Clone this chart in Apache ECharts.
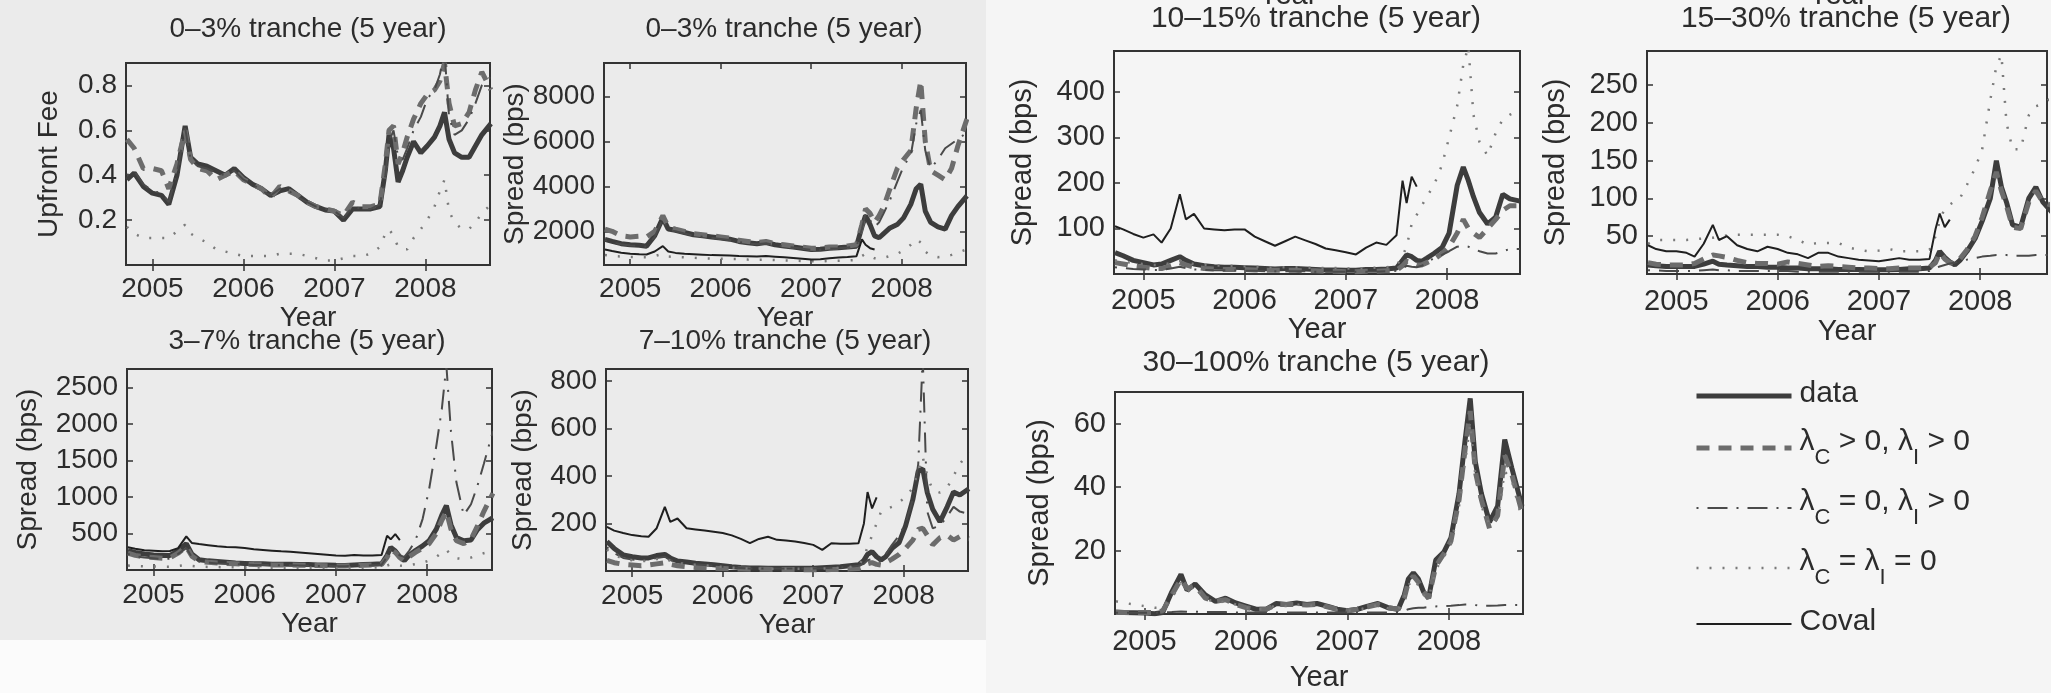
<!DOCTYPE html>
<html>
<head>
<meta charset="utf-8">
<script src="https://cdn.jsdelivr.net/npm/echarts@6/dist/echarts.min.js"></script>
<style>
  html, body { margin: 0; padding: 0; background: #f5f5f5; }
  #chart { width: 2051px; height: 693px; }
</style>
</head>
<body>
<div id="chart"></div>
<script>
// time grid shared by every panel (decimal years)
const dates = [2004.72, 2004.80, 2004.90, 2005.00, 2005.10, 2005.18, 2005.27, 2005.36, 2005.42, 2005.50,
  2005.60, 2005.70, 2005.80, 2005.90, 2006.00, 2006.10, 2006.20, 2006.30, 2006.40, 2006.50,
  2006.60, 2006.70, 2006.80, 2006.90, 2007.00, 2007.10, 2007.20, 2007.30, 2007.40, 2007.50,
  2007.56, 2007.60, 2007.65, 2007.70, 2007.75, 2007.80, 2007.87, 2007.95, 2008.02, 2008.10,
  2008.16, 2008.21, 2008.26, 2008.32, 2008.40, 2008.48, 2008.55, 2008.62, 2008.72]
const yearTicks = [2005, 2006, 2007, 2008]
const seriesNames = ['data', 'λC > 0, λI > 0', 'λC = 0, λI > 0', 'λC = λI = 0', 'Coval']
const covalEnd = new Array(15).fill(null)

// 0-3% tranche, upfront fee
const eqUpfrontData = [0.38, 0.41, 0.35, 0.32, 0.31, 0.27, 0.40, 0.62, 0.48, 0.45, 0.44, 0.42, 0.40, 0.43, 0.39, 0.36, 0.34, 0.31, 0.33, 0.34, 0.31, 0.28, 0.26, 0.245, 0.24, 0.20, 0.25, 0.25, 0.25, 0.26, 0.42, 0.58, 0.52, 0.37, 0.42, 0.48, 0.55, 0.50, 0.53, 0.57, 0.62, 0.68, 0.56, 0.50, 0.48, 0.48, 0.53, 0.58, 0.63]
const eqUpfrontBoth = [0.56, 0.52, 0.43, 0.43, 0.42, 0.34, 0.45, 0.60, 0.47, 0.43, 0.42, 0.38, 0.40, 0.42, 0.38, 0.36, 0.34, 0.30, 0.35, 0.33, 0.31, 0.28, 0.26, 0.25, 0.24, 0.22, 0.28, 0.26, 0.26, 0.27, 0.45, 0.60, 0.62, 0.45, 0.50, 0.57, 0.65, 0.72, 0.76, 0.78, 0.82, 0.90, 0.72, 0.62, 0.63, 0.68, 0.78, 0.86, 0.78]
const eqUpfrontIdio = [0.40, 0.42, 0.36, 0.33, 0.32, 0.28, 0.41, 0.61, 0.47, 0.44, 0.43, 0.41, 0.40, 0.42, 0.38, 0.36, 0.33, 0.31, 0.34, 0.33, 0.30, 0.28, 0.26, 0.25, 0.24, 0.21, 0.26, 0.25, 0.25, 0.27, 0.40, 0.55, 0.60, 0.48, 0.47, 0.52, 0.60, 0.66, 0.74, 0.78, 0.85, 0.95, 0.66, 0.58, 0.60, 0.65, 0.72, 0.80, 0.84]
const eqUpfrontNone = [0.17, 0.14, 0.12, 0.12, 0.12, 0.12, 0.15, 0.18, 0.14, 0.12, 0.10, 0.07, 0.06, 0.05, 0.04, 0.04, 0.04, 0.04, 0.05, 0.05, 0.05, 0.04, 0.03, 0.02, 0.02, 0.03, 0.04, 0.04, 0.05, 0.08, 0.14, 0.16, 0.13, 0.08, 0.07, 0.07, 0.12, 0.16, 0.20, 0.26, 0.33, 0.38, 0.24, 0.19, 0.16, 0.16, 0.19, 0.23, 0.27]

// 0-3% tranche, running spread
const eqSpreadData = [1640, 1550, 1450, 1400, 1380, 1340, 1800, 2600, 2100, 2050, 1950, 1850, 1800, 1750, 1700, 1650, 1550, 1490, 1450, 1500, 1400, 1350, 1300, 1250, 1190, 1200, 1250, 1270, 1300, 1340, 2200, 2700, 2300, 1800, 1715, 1900, 2150, 2300, 2600, 3200, 3900, 4100, 2900, 2400, 2200, 2100, 2700, 3100, 3580]
const eqSpreadBoth = [2100, 2000, 1800, 1750, 1780, 1750, 2000, 2700, 2200, 2100, 2000, 1900, 1850, 1800, 1750, 1700, 1600, 1550, 1500, 1550, 1450, 1400, 1350, 1300, 1250, 1250, 1300, 1300, 1350, 1400, 2300, 3000, 2800, 2400, 2700, 3100, 3900, 4800, 5200, 5600, 7500, 8700, 6000, 4700, 4500, 4300, 4800, 5800, 7000]
const eqSpreadIdio = [1600, 1500, 1420, 1370, 1350, 1320, 1750, 2550, 2050, 2000, 1900, 1800, 1760, 1710, 1660, 1610, 1520, 1460, 1420, 1470, 1380, 1330, 1280, 1230, 1170, 1180, 1230, 1250, 1280, 1320, 2100, 2800, 2500, 2200, 2400, 2800, 3400, 4200, 4900, 5400, 6800, 7400, 5600, 4800, 5200, 5700, 5900, 6100, 6400]
const eqSpreadNone = [950, 900, 880, 860, 850, 850, 900, 1000, 880, 860, 840, 820, 800, 790, 780, 770, 760, 740, 730, 740, 720, 700, 690, 680, 670, 660, 680, 690, 700, 720, 900, 1000, 900, 800, 780, 820, 900, 1000, 1150, 1400, 1650, 1500, 1100, 900, 850, 880, 950, 1050, 1200]
const eqSpreadCoval = [1190, 1120, 1050, 1000, 980, 970, 1100, 1340, 1100, 1040, 1000, 980, 960, 940, 930, 920, 900, 895, 880, 900, 870, 840, 810, 780, 745, 760, 800, 830, 860, 895, 1640, 1400, 1250, 1190].concat(covalEnd)

// 3-7% tranche
const mezzData = [265, 240, 220, 205, 198, 200, 260, 360, 220, 140, 125, 115, 105, 95, 90, 85, 85, 80, 80, 80, 75, 75, 70, 68, 65, 63, 70, 75, 80, 85, 200, 310, 260, 180, 130, 200, 265, 330, 400, 560, 750, 880, 620, 445, 400, 410, 550, 640, 715]
const mezzBoth = [230, 200, 180, 170, 160, 165, 230, 320, 190, 120, 105, 95, 90, 85, 80, 75, 72, 70, 68, 70, 66, 62, 60, 58, 56, 55, 60, 65, 70, 75, 170, 280, 240, 170, 120, 180, 240, 300, 360, 500, 680, 800, 560, 400, 360, 420, 600, 800, 1050]
const mezzIdio = [220, 190, 170, 160, 150, 155, 220, 300, 180, 115, 100, 90, 85, 80, 75, 70, 68, 66, 64, 66, 62, 58, 56, 54, 52, 51, 56, 60, 65, 70, 180, 280, 250, 200, 180, 260, 400, 700, 1100, 1700, 2200, 2800, 1900, 1200, 750, 900, 1150, 1450, 1900]
const mezzNone = [60, 55, 50, 48, 46, 46, 55, 70, 55, 45, 42, 40, 38, 36, 35, 34, 33, 32, 32, 32, 31, 30, 30, 29, 28, 28, 30, 32, 34, 36, 60, 80, 70, 60, 55, 65, 80, 100, 130, 180, 240, 280, 200, 160, 150, 170, 200, 230, 260]
const mezzCoval = [310, 290, 270, 265, 255, 260, 300, 460, 370, 355, 340, 325, 315, 310, 300, 285, 275, 265, 255, 250, 240, 230, 220, 210, 200, 195, 205, 200, 200, 205, 470, 420, 490, 410].concat(covalEnd)

// 7-10% tranche
const t710Data = [124, 95, 68, 60, 55, 55, 65, 70, 55, 42, 38, 33, 30, 26, 22, 18, 15, 13, 13, 12, 12, 12, 12, 12, 12, 14, 16, 18, 22, 26, 45, 70, 82, 60, 47, 60, 95, 120, 190, 300, 420, 430, 330, 260, 207, 270, 332, 320, 346]
const t710Both = [45, 35, 28, 25, 22, 25, 30, 35, 28, 22, 18, 15, 14, 12, 10, 9, 8, 7, 7, 7, 6, 6, 6, 5, 5, 5, 6, 7, 8, 10, 18, 30, 35, 28, 25, 35, 50, 70, 95, 130, 175, 180, 150, 110, 140, 150, 130, 145, 135]
const t710Idio = [100, 75, 55, 48, 45, 45, 55, 60, 46, 36, 32, 28, 25, 22, 18, 15, 13, 11, 11, 10, 10, 10, 10, 10, 10, 12, 14, 15, 18, 22, 30, 45, 50, 40, 40, 70, 110, 150, 200, 300, 450, 900, 250, 180, 190, 230, 270, 250, 240]
const t710None = [90, 70, 50, 45, 42, 42, 50, 55, 42, 33, 30, 26, 24, 20, 17, 14, 12, 10, 10, 9, 9, 9, 9, 9, 9, 10, 12, 14, 17, 20, 60, 100, 150, 200, 250, 260, 270, 290, 310, 350, 420, 480, 400, 340, 330, 350, 400, 450, 500]
const t710Coval = [186, 170, 160, 151, 146, 144, 180, 270, 207, 221, 180, 175, 170, 165, 160, 150, 135, 117, 135, 144, 131, 128, 124, 118, 110, 89, 117, 115, 115, 117, 200, 332, 263, 310].concat(covalEnd)

// 10-15% tranche
const t1015Data = [47, 40, 30, 25, 20, 22, 30, 38, 30, 22, 18, 16, 15, 15, 14, 13, 12, 11, 12, 12, 11, 10, 9, 9, 8, 8, 10, 10, 11, 13, 30, 42, 38, 30, 28, 35, 45, 58, 90, 195, 235, 205, 170, 135, 110, 125, 175, 165, 160]
const t1015Both = [25, 22, 18, 15, 12, 12, 18, 25, 20, 15, 12, 11, 10, 10, 10, 9, 8, 8, 8, 8, 7, 7, 6, 6, 5, 5, 6, 6, 7, 8, 18, 28, 25, 20, 20, 25, 32, 45, 60, 90, 120, 100, 90, 80, 100, 120, 140, 150, 150]
const t1015Idio = [15, 13, 11, 10, 9, 9, 12, 16, 13, 10, 9, 8, 8, 8, 7, 7, 6, 6, 6, 6, 6, 5, 5, 5, 5, 5, 5, 5, 6, 7, 12, 18, 16, 15, 18, 25, 35, 42, 50, 60, 62, 60, 55, 50, 45, 45, 50, 55, 55]
const t1015None = [30, 27, 24, 22, 20, 20, 24, 30, 25, 22, 20, 19, 18, 18, 17, 16, 15, 15, 15, 15, 14, 14, 13, 13, 12, 12, 13, 14, 15, 18, 40, 60, 110, 130, 150, 170, 195, 240, 300, 370, 460, 500, 350, 290, 260, 310, 340, 350, 360]
const t1015Coval = [105, 98, 88, 80, 87, 69, 100, 175, 120, 132, 100, 98, 96, 98, 98, 82, 72, 62, 72, 82, 74, 66, 56, 52, 48, 43, 58, 69, 64, 85, 205, 156, 214, 192].concat(covalEnd)

// 15-30% tranche
const t1530Data = [12, 11, 10, 10, 10, 10, 13, 17, 13, 12, 11, 10, 10, 9, 9, 8, 8, 7, 7, 7, 6, 6, 6, 5.5, 5.5, 5.5, 6, 7, 7, 8, 18, 30, 22, 16, 12, 18, 30, 47, 70, 100, 150, 115, 95, 65, 62, 100, 115, 95, 80]
const t1530Both = [15, 13, 12, 12, 12, 14, 20, 25, 24, 22, 18, 15, 14, 14, 13, 16, 14, 12, 10, 11, 10, 9, 8, 8, 7, 7, 8, 8, 8, 9, 15, 28, 20, 15, 14, 20, 32, 50, 75, 110, 135, 110, 90, 62, 60, 95, 110, 95, 90]
const t1530Idio = [5, 5, 4, 4, 4, 4, 5, 6, 5, 5, 4, 4, 4, 4, 4, 4, 3, 3, 3, 3, 3, 3, 3, 3, 3, 3, 3, 3, 3, 4, 8, 10, 12, 14, 15, 17, 19, 21, 23, 24, 25, 25, 25, 24, 24, 24, 25, 25, 25]
const t1530None = [40, 45, 45, 45, 45, 46, 47, 48, 50, 51, 52, 52, 52, 52, 52, 50, 45, 39, 41, 41, 41, 35, 32, 30, 31, 33, 30, 30, 30, 32, 50, 70, 87, 92, 96, 100, 118, 140, 165, 230, 275, 290, 200, 165, 165, 210, 222, 225, 235]
const t1530Coval = [38, 33, 30, 30, 28, 23, 40, 65, 45, 50, 38, 33, 30, 36, 33, 28, 26, 21, 28, 28, 23, 21, 19, 18, 17, 19, 21, 19, 19, 20, 60, 80, 62, 72].concat(covalEnd)

// 30-100% tranche
const seniorData = [0.6, 0.5, 0.4, 0.3, 0.1, 0.5, 7, 12.5, 7.5, 9.5, 6, 4, 5, 3.5, 2.5, 1.5, 1.5, 3.3, 3, 3.5, 3, 3.3, 2.5, 1.5, 1, 1.5, 2.5, 3.3, 2, 1.5, 6, 11, 13, 11, 7, 5, 17, 19.5, 24, 38, 55, 68, 48, 38, 29, 34, 55, 46, 34]
const seniorBoth = [0.5, 0.5, 0.5, 0.5, 0.5, 1, 6, 11, 8, 9, 5, 4, 4.5, 3, 2, 1.5, 1.5, 3, 3, 3, 2.8, 3, 2.3, 1.5, 1, 1.5, 2.3, 3, 2, 1.5, 5, 10, 12, 10, 7, 5, 15, 19, 23, 36, 52, 64, 45, 36, 27, 31, 50, 44, 32]
const seniorIdio = [0.4, 0.4, 0.4, 0.4, 0.4, 0.5, 0.6, 0.8, 0.7, 0.7, 0.6, 0.6, 0.6, 0.5, 0.5, 0.5, 0.5, 0.5, 0.5, 0.5, 0.5, 0.5, 0.5, 0.5, 0.5, 0.5, 0.5, 0.5, 0.5, 0.6, 1, 1.5, 1.8, 2, 2, 2.2, 2.4, 2.5, 2.6, 2.8, 3, 3, 2.8, 2.6, 2.6, 2.7, 2.8, 2.8, 2.8]
const seniorNone = [4, 3.5, 3, 2.5, 2, 2, 5, 10, 7, 8, 5, 3.5, 4, 3, 2, 1.5, 1.5, 2.8, 2.5, 3, 2.5, 2.8, 2, 1.3, 1, 1.3, 2, 2.8, 1.8, 1.3, 5, 9, 11, 9, 6, 5, 14, 18, 22, 34, 48, 60, 44, 34, 28, 30, 45, 42, 30]

const FONT = '"Liberation Sans", Arial, Helvetica, sans-serif'
const INK = '#2c2c2c'

// panel layout: box = [left, top, width, height]
const panels = [
  { title: '0–3% tranche (5 year)', yName: 'Upfront Fee', box: [126, 63, 364, 202], xMax: 2008.71, y: [0, 0.9], yTicks: [0.2, 0.4, 0.6, 0.8],
    font: 28, titleFont: 28, titleAt: [308, 33], yNameGap: 63, labelGap: 10, nameGap: 37,
    lines: [eqUpfrontData, eqUpfrontBoth, eqUpfrontIdio, eqUpfrontNone, null] },
  { title: '0–3% tranche (5 year)', yName: 'Spread (bps)', box: [604, 63, 362, 202], xMax: 2008.71, y: [500, 9500], yTicks: [2000, 4000, 6000, 8000],
    font: 28, titleFont: 28, titleAt: [784, 33], yNameGap: 74, labelGap: 10, nameGap: 37,
    lines: [eqSpreadData, eqSpreadBoth, eqSpreadIdio, eqSpreadNone, eqSpreadCoval] },
  { title: '3–7% tranche (5 year)', yName: 'Spread (bps)', box: [127, 369, 365, 201], xMax: 2008.71, y: [0, 2750], yTicks: [500, 1000, 1500, 2000, 2500],
    font: 28, titleFont: 28, titleAt: [307, 345], yNameGap: 85, labelGap: 11, nameGap: 37,
    lines: [mezzData, mezzBoth, mezzIdio, mezzNone, mezzCoval] },
  { title: '7–10% tranche (5 year)', yName: 'Spread (bps)', box: [606, 369, 362, 202], xMax: 2008.71, y: [0, 850], yTicks: [200, 400, 600, 800],
    font: 28, titleFont: 28, titleAt: [785, 345], yNameGap: 69, labelGap: 11, nameGap: 37,
    lines: [t710Data, t710Both, t710Idio, t710None, t710Coval] },
  { title: '10–15% tranche (5 year)', yName: 'Spread (bps)', box: [1114, 51, 406, 223], xMax: 2008.72, y: [0, 490], yTicks: [100, 200, 300, 400],
    font: 29, titleFont: 30, titleAt: [1316, 22], yNameGap: 77, labelGap: 12, nameGap: 41,
    lines: [t1015Data, t1015Both, t1015Idio, t1015None, t1015Coval] },
  { title: '15–30% tranche (5 year)', yName: 'Spread (bps)', box: [1647, 51, 400, 223], xMax: 2008.66, y: [0, 295], yTicks: [50, 100, 150, 200, 250],
    font: 29, titleFont: 30, titleAt: [1846, 22], yNameGap: 77, labelGap: 13, nameGap: 43,
    lines: [t1530Data, t1530Both, t1530Idio, t1530None, t1530Coval] },
  { title: '30–100% tranche (5 year)', yName: 'Spread (bps)', box: [1115, 392, 408, 222], xMax: 2008.73, y: [0, 70], yTicks: [20, 40, 60],
    font: 29, titleFont: 30, titleAt: [1316, 366], yNameGap: 61, labelGap: 13, nameGap: 49,
    lines: [seniorData, seniorBoth, seniorIdio, seniorNone, null] }
]

const lineStyles = [
  { width: 5, color: '#3d3d3d', type: 'solid' },
  { width: 5, color: '#6c6c6c', type: [13, 9] },
  { width: 2, color: '#4a4a4a', type: [2, 9, 20, 9] },
  { width: 2.5, color: '#7a7a7a', type: [2, 11] },
  { width: 2, color: '#1f1f1f', type: 'solid' }
]

const grid = []
const xAxis = []
const yAxis = []
const series = []
const title = []

panels.forEach((p, k) => {
  const [l, t, w, h] = p.box
  const tick = { show: true, inside: true, length: 6, lineStyle: { color: '#333', width: 1.5 } }
  const text = { fontSize: p.font, color: INK, fontFamily: FONT }
  grid.push({ left: l, top: t, width: w, height: h, show: true, borderColor: '#333', borderWidth: 2, backgroundColor: 'transparent' })
  title.push({ text: p.title, left: p.titleAt[0], top: p.titleAt[1] - p.titleFont * 0.62, textAlign: 'center', padding: 0,
    textStyle: { ...text, fontSize: p.titleFont, fontWeight: 'normal' } })

  xAxis.push({ gridIndex: k, type: 'value', min: 2004.71, max: p.xMax, splitLine: { show: false }, axisLine: { show: false },
    axisTick: { ...tick, customValues: yearTicks },
    axisLabel: { ...text, customValues: yearTicks, margin: p.labelGap, formatter: v => String(v) },
    name: 'Year', nameLocation: 'middle', nameGap: p.nameGap, nameTextStyle: text })
  xAxis.push({ gridIndex: k, type: 'value', position: 'top', min: 2004.71, max: p.xMax, splitLine: { show: false }, axisLine: { show: false },
    axisTick: { ...tick, customValues: yearTicks }, axisLabel: { show: false } })

  yAxis.push({ gridIndex: k, type: 'value', min: p.y[0], max: p.y[1], splitLine: { show: false }, axisLine: { show: false },
    axisTick: { ...tick, customValues: p.yTicks },
    axisLabel: { ...text, customValues: p.yTicks, margin: 9, formatter: v => String(v) },
    name: p.yName, nameLocation: 'middle', nameRotate: 90, nameGap: p.yNameGap, nameTextStyle: text })
  yAxis.push({ gridIndex: k, type: 'value', position: 'right', min: p.y[0], max: p.y[1], splitLine: { show: false }, axisLine: { show: false },
    axisTick: { ...tick, customValues: p.yTicks }, axisLabel: { show: false } })

  p.lines.forEach((vals, j) => {
    if (!vals) return
    series.push({
      type: 'line', name: seriesNames[j], xAxisIndex: 2 * k, yAxisIndex: 2 * k,
      data: dates.map((d, i) => [d, vals[i]]),
      symbol: 'none', connectNulls: false, clip: true, smooth: false,
      lineStyle: lineStyles[j]
    })
  })
})

// legend label with subscripts
function legendText(name) {
  return name.split(/(λ[CI])/).filter(Boolean).map(part => {
    if (part[0] === 'λ') return '{l|λ}{s|' + part[1] + '}'
    return '{l|' + part + '}'
  }).join('')
}

const pageText = { fontSize: 29, fill: INK, fontFamily: FONT }

const chart = echarts.init(document.getElementById('chart'))
chart.setOption({
  animation: false,
  backgroundColor: '#f5f5f5',
  graphic: [
    { type: 'rect', z: -10, silent: true, shape: { x: 0, y: 0, width: 986, height: 640 }, style: { fill: '#ebebeb' } },
    { type: 'rect', z: -10, silent: true, shape: { x: 0, y: 640, width: 986, height: 53 }, style: { fill: '#fbfbfb' } },
    // bottoms of the axis labels of the row above, cut by the page edge
    { type: 'text', silent: true, x: 1288, y: -19, style: { ...pageText, text: 'Year', textAlign: 'center' } },
    { type: 'text', silent: true, x: 1838, y: -19, style: { ...pageText, text: 'Year', textAlign: 'center' } }
  ],
  title,
  grid,
  xAxis,
  yAxis,
  legend: {
    orient: 'vertical', left: 1694, top: 379, padding: 0, itemWidth: 95, itemHeight: 14, itemGap: 18,
    data: seriesNames.map((n, j) => ({ name: n, lineStyle: lineStyles[j], itemStyle: { opacity: 0 } })),
    formatter: legendText,
    textStyle: {
      fontSize: 30, color: INK, fontFamily: FONT, padding: [0, 0, 0, 3],
      rich: {
        l: { fontSize: 30, fontFamily: FONT, color: INK, lineHeight: 34, verticalAlign: 'top' },
        s: { fontSize: 22, fontFamily: FONT, color: INK, lineHeight: 42, verticalAlign: 'bottom' }
      }
    }
  },
  series
})
</script>
</body>
</html>
